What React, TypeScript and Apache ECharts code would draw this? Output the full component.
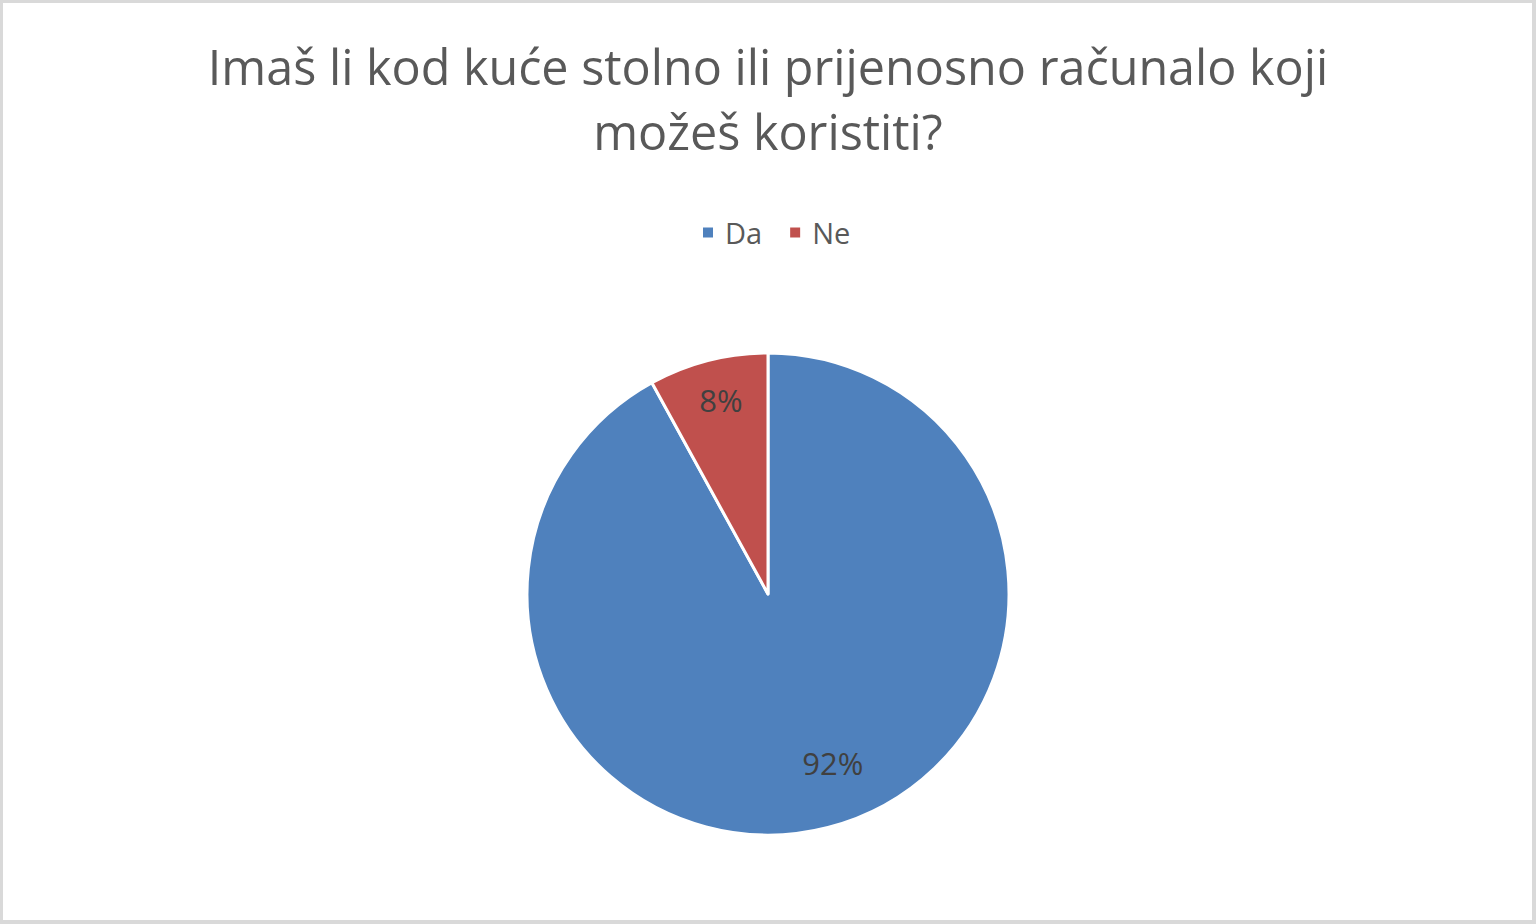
import React, { useEffect, useRef } from "react";
import * as echarts from "echarts";

const titleLines = ["Imaš li kod kuće stolno ili prijenosno računalo koji", "možeš koristiti?"];
const categories = ["Da", "Ne"];
const values = [92, 8];
const colors = ["#4F81BD", "#C0504D"];

export default function App() {
  const ref = useRef<HTMLDivElement>(null);
  useEffect(() => {
    document.body.style.margin = "0";
    const chart = echarts.init(ref.current!, null, { renderer: "svg" });
    const cx = 768;
    const cy = 594;
    const R = 241;
    const total = values.reduce((a, b) => a + b, 0);
    const labelFrac = [0.75, 0.83];
    const labelShift = [-6.6, 0.8];
    const font = "Open Sans";
    chart.setOption({
      animation: false,
      backgroundColor: "#ffffff",
      title: {
        text: titleLines.join("\n"),
        left: "center",
        top: 28,
        textStyle: {
          fontFamily: font,
          fontSize: 48.5,
          fontWeight: "normal",
          color: "#595959",
          lineHeight: 65,
        },
      },
      legend: {
        data: categories,
        top: 213,
        left: 696,
        itemWidth: 12,
        itemHeight: 12,
        itemGap: 26,
        icon: "rect",
        textStyle: { fontFamily: font, fontSize: 29, color: "#595959", padding: [0, 0, 0, 6] },
      },
      series: [
        {
          type: "pie",
          center: [cx, cy],
          radius: R,
          startAngle: 90,
          clockwise: true,
          data: categories.map((c, i) => ({
            name: c,
            value: values[i],
            itemStyle: { color: colors[i] },
          })),
          itemStyle: { borderColor: "#ffffff", borderWidth: 3 },
          label: {
            show: true,
            position: "inside",
            formatter: "{d}%",
            fontFamily: font,
            fontSize: 31,
            color: "#404040",
          },
          labelLine: { show: false },
          labelLayout: (p: any) => {
            const i = p.dataIndex;
            let start = 0;
            for (let k = 0; k < i; k++) start += values[k];
            const midDeg = ((start + values[i] / 2) / total) * 360 + labelShift[i];
            const a = (midDeg * Math.PI) / 180;
            const rr = R * labelFrac[i];
            return {
              x: cx + rr * Math.sin(a),
              y: cy - rr * Math.cos(a),
              align: "center",
              verticalAlign: "middle",
            };
          },
          emphasis: { disabled: true },
        },
      ],
    });
    return () => chart.dispose();
  }, []);
  return (
    <div style={{ position: "relative", width: 1536, height: 924 }}>
      <div ref={ref} style={{ position: "absolute", left: 0, top: 0, width: 1536, height: 924 }} />
      <div
        style={{
          position: "absolute",
          left: 0,
          top: 0,
          width: 1536,
          height: 924,
          boxSizing: "border-box",
          borderStyle: "solid",
          borderColor: "#d9d9d9",
          borderWidth: "3px 4px 4px 3px",
          pointerEvents: "none",
        }}
      />
    </div>
  );
}
